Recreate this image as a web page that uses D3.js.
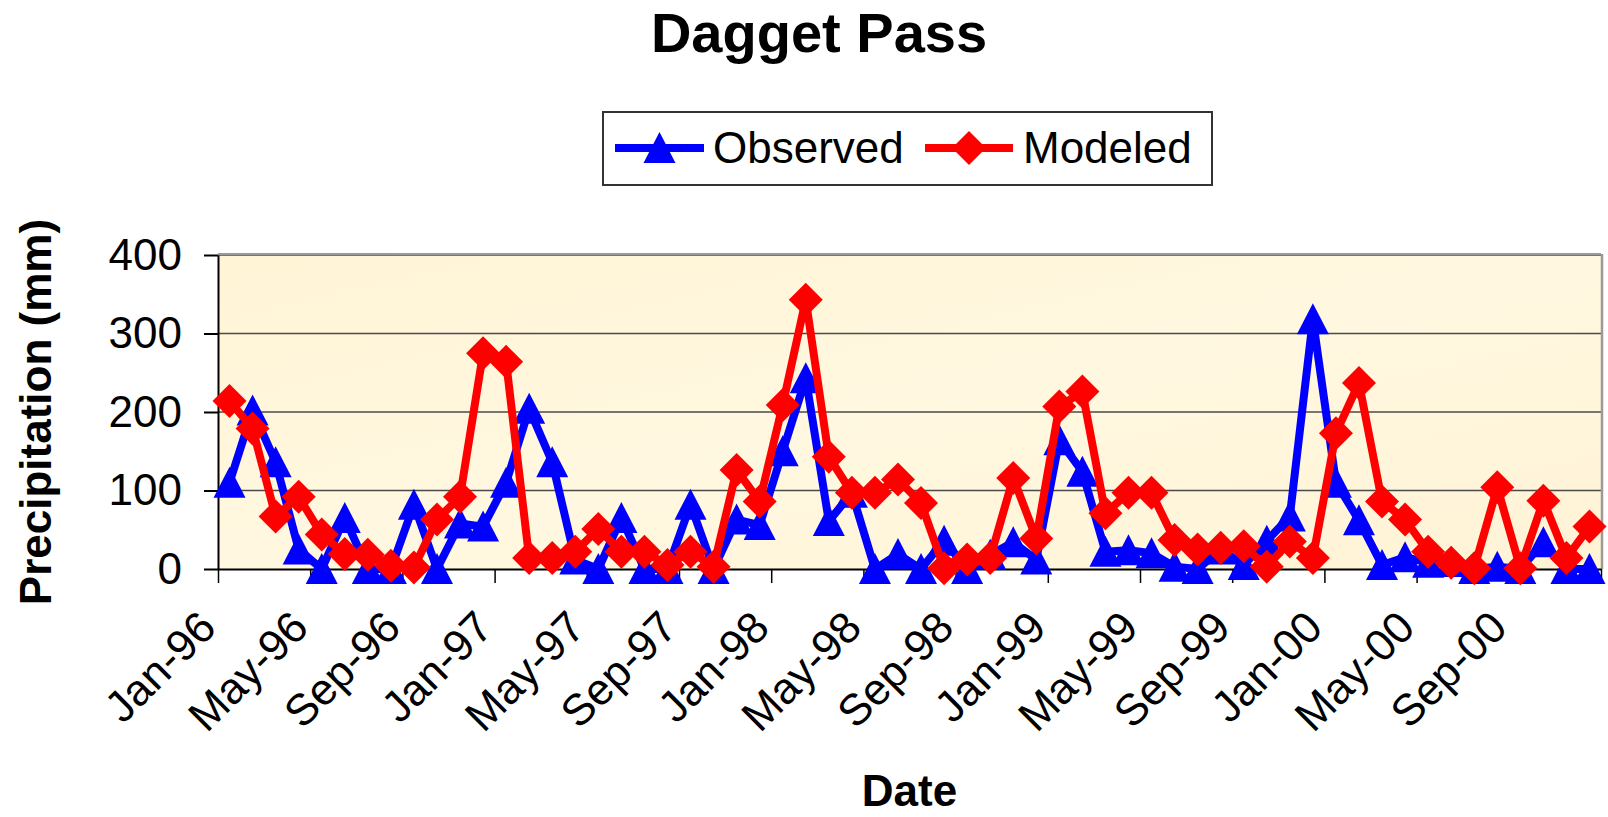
<!DOCTYPE html>
<html>
<head>
<meta charset="utf-8">
<script src="https://cdn.jsdelivr.net/npm/d3@7"></script>
<style>
  html, body { margin: 0; padding: 0; background: #ffffff; }
  svg { display: block; }
  text { font-family: "Liberation Sans", Arial, sans-serif; fill: #000; }
</style>
</head>
<body>
<svg id="chart" width="1608" height="817"></svg>
<script>
// ---- data ----
const months = [];
const monthNames = ["Jan","Feb","Mar","Apr","May","Jun","Jul","Aug","Sep","Oct","Nov","Dec"];
const years = ["96","97","98","99","00"];
years.forEach(y => monthNames.forEach(m => months.push(m + "-" + y)));

const observed = [110,202,136,25,0,65,0,0,82,0, 58,54,110,204,136,12,0,65,0,0,
                  82,0,63,56,150,243,61,97,0,19, 0,36,0,18,34,12,164,124,22,24,
                  20,3,0,25,5,36,67,318,110,62, 5,15,8,9,0,3,0,34,0,0];
const modeled  = [214,179,67,92,44,19,18,4,2,63, 92,275,264,14,14,22,51,22,22,5,
                  22,3,126,86,209,343,143,97,97,114, 84,1,12,14,116,39,207,226,71,97,
                  97,37,25,27,29,3,35,14,173,237, 86,63,22,8,1,104,1,87,14,54];
const yTicks = [0,100,200,300,400];
const xLabelMonths = months.filter((d,i) => i % 4 === 0);
const seriesNames = ["Observed","Modeled"];
const seriesColors = ["#0000FF","#FF0000"];

// ---- layout ----
const L = 218, R = 1601, T = 255, B = 569;
const svg = d3.select("#chart");

const x = d3.scaleBand().domain(months).range([L, R]).padding(0);
const xIdx = d3.scaleLinear().domain([0, months.length]).range([L, R]);
const y = d3.scaleLinear().domain([0, 400]).range([B, T]);

// plot background
const defs = svg.append("defs");
const grad = defs.append("linearGradient").attr("id","bg").attr("x1","0").attr("y1","0").attr("x2","1").attr("y2","1");
grad.append("stop").attr("offset","0%").attr("stop-color","#FFF4D6");
grad.append("stop").attr("offset","50%").attr("stop-color","#FFF8E0");
grad.append("stop").attr("offset","100%").attr("stop-color","#FFF3D6");
svg.append("rect").attr("x", L).attr("y", T).attr("width", R - L).attr("height", B - T)
  .attr("fill", "url(#bg)");

// gridlines
svg.append("g").selectAll("line").data(yTicks.filter(d => d > 0)).join("line")
  .attr("x1", L).attr("x2", R).attr("y1", d => y(d)).attr("y2", d => y(d))
  .attr("stroke", "#4a4a4a").attr("stroke-width", 1.5);

// plot border (top / right)
svg.append("line").attr("x1", L).attr("x2", R).attr("y1", T - 1).attr("y2", T - 1)
  .attr("stroke", "#9a9a9a").attr("stroke-width", 2);
svg.append("line").attr("x1", R + 1).attr("x2", R + 1).attr("y1", T - 1).attr("y2", B)
  .attr("stroke", "#9a9a9a").attr("stroke-width", 2.5);

// y axis
const yAxis = svg.append("g").attr("transform", `translate(${L},0)`)
  .call(d3.axisLeft(y).tickValues(yTicks).tickSize(14).tickPadding(22).tickSizeOuter(0));
yAxis.select(".domain").attr("stroke", "#000").attr("stroke-width", 2);
yAxis.selectAll(".tick line").attr("stroke", "#000").attr("stroke-width", 2);
yAxis.selectAll(".tick text").attr("font-size", 44).attr("font-family", "Liberation Sans, Arial, sans-serif").attr("fill", "#000");

// x axis (tick marks at category boundaries every 4 months)
const xAxis = svg.append("g").attr("transform", `translate(0,${B})`)
  .call(d3.axisBottom(xIdx).tickValues(d3.range(0, months.length + 1, 4)).tickSize(14).tickFormat("").tickSizeOuter(0));
xAxis.select(".domain").attr("stroke", "#000").attr("stroke-width", 2);
xAxis.selectAll(".tick line").attr("stroke", "#000").attr("stroke-width", 1.5);

// x labels
svg.append("g").selectAll("text").data(xLabelMonths).join("text")
  .attr("transform", d => `translate(${x(d) + x.bandwidth() / 2 - 22},619) rotate(-45)`)
  .attr("text-anchor", "end").attr("dy", "0.35em")
  .attr("font-size", 44)
  .text(d => d);

// series
const line = d3.line().x((d, i) => x(months[i]) + x.bandwidth() / 2).y(d => y(d));
const triPath = "M0,-18L16,13L-16,13Z";
const diamond = "M0,-17L17,0L0,17L-17,0Z";

function drawSeries(values, color, kind) {
  const g = svg.append("g");
  g.append("path").datum(values).attr("d", line).attr("fill", "none")
    .attr("stroke", color).attr("stroke-width", 8).attr("stroke-linejoin", "round");
  g.selectAll("path.m").data(values).join("path").attr("class", "m")
    .attr("transform", (d, i) => `translate(${x(months[i]) + x.bandwidth() / 2},${y(d) + (kind === "tri" ? 2 : 0)})`)
    .attr("d", kind === "tri" ? triPath : diamond)
    .attr("fill", color);
}
drawSeries(observed, seriesColors[0], "tri");
drawSeries(modeled, seriesColors[1], "dia");

// title
svg.append("text").attr("x", 819).attr("y", 52).attr("text-anchor", "middle")
  .attr("font-size", 56).attr("font-weight", "bold").text("Dagget Pass");

// axis titles
svg.append("text").attr("transform", `translate(51,${(T + B) / 2}) rotate(-90)`)
  .attr("text-anchor", "middle").attr("font-size", 44).attr("font-weight", "bold")
  .text("Precipitation (mm)");
svg.append("text").attr("x", (L + R) / 2).attr("y", 806).attr("text-anchor", "middle")
  .attr("font-size", 44).attr("font-weight", "bold").text("Date");

// legend
const lg = svg.append("g");
lg.append("rect").attr("x", 603).attr("y", 112).attr("width", 609).attr("height", 73)
  .attr("fill", "#fff").attr("stroke", "#333").attr("stroke-width", 2);
const legendItems = [
  { name: seriesNames[0], color: seriesColors[0], x0: 615, x1: 704, tx: 713, kind: "tri" },
  { name: seriesNames[1], color: seriesColors[1], x0: 925, x1: 1013, tx: 1023, kind: "dia" }
];
legendItems.forEach(it => {
  const cy = 148;
  lg.append("line").attr("x1", it.x0).attr("x2", it.x1).attr("y1", cy).attr("y2", cy)
    .attr("stroke", it.color).attr("stroke-width", 8);
  lg.append("path").attr("transform", `translate(${(it.x0 + it.x1) / 2},${cy + (it.kind === "tri" ? 2 : 0)})`)
    .attr("d", it.kind === "tri" ? triPath : diamond).attr("fill", it.color);
  lg.append("text").attr("x", it.tx).attr("y", cy).attr("dy", "0.35em")
    .attr("font-size", 44).text(it.name);
});
</script>
</body>
</html>
